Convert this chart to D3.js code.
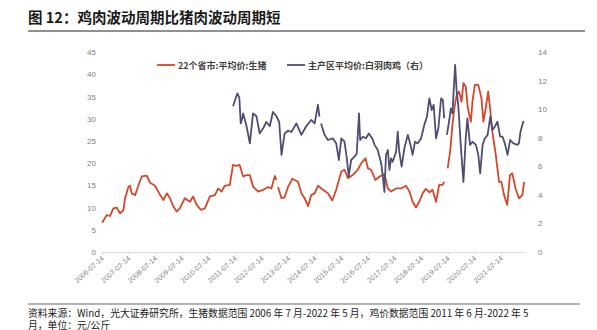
<!DOCTYPE html>
<html><head><meta charset="utf-8">
<script src="https://cdn.jsdelivr.net/npm/d3@7"></script>
<style>
html,body{margin:0;padding:0;background:#fff;}
svg{display:block;}
</style></head>
<body>
<svg id="c" width="597" height="330"></svg>
<script>
// ---------- data ----------
const titleText = "图 12：鸡肉波动周期比猪肉波动周期短";
const footLine1 = "资料来源：Wind，光大证券研究所，生猪数据范围 2006 年 7 月-2022 年 5 月，鸡价数据范围 2011 年 6 月-2022 年 5";
const footLine2 = "月，单位：元/公斤";
const seriesNames = ["22个省市:平均价:生猪", "主产区平均价:白羽肉鸡（右）"];
const xTickLabels = ["2006-07-14","2007-07-14","2008-07-14","2009-07-14","2010-07-14","2011-07-14","2012-07-14","2013-07-14","2014-07-14","2015-07-14","2016-07-14","2017-07-14","2018-07-14","2019-07-14","2020-07-14","2021-07-14"];
const leftTicks = [0,5,10,15,20,25,30,35,40,45];
const rightTicks = [0,2,4,6,8,10,12,14];

// pig price (left axis), null = gap
const pigDates = ["2006-07-16","2006-09-16","2006-11-03","2006-12-16","2007-02-03","2007-03-18","2007-05-04","2007-05-26","2007-07-13","2007-08-04","2007-08-26","2007-10-12","2007-11-25","2008-01-11","2008-03-20","2008-05-04","2008-07-12","2008-09-20","2008-11-03","2008-12-20","2009-02-03","2009-03-18","2009-05-04","2009-06-17","2009-08-25","2009-11-03","2009-12-16","2010-02-03","2010-04-01","2010-05-26","2010-08-04","2010-10-12","2010-11-25","2011-01-11","2011-02-24","2011-05-04","2011-06-17","2011-08-04","2011-09-16","2011-11-03","2011-12-20","2012-02-03","2012-03-18","2012-05-26","2012-08-04","2012-10-12","2012-11-25","2013-01-11","2013-02-03","2013-02-14","2013-02-24","2013-04-13","2013-05-26","2013-07-13","2013-09-09","2013-11-25","2014-01-11","2014-02-24","2014-04-13","2014-05-26","2014-07-13","2014-08-26","2014-11-03","2015-01-11","2015-03-12","2015-05-04","2015-07-13","2015-08-26","2015-10-12","2015-12-16","2016-02-24","2016-04-13","2016-06-10","2016-07-13","2016-08-26","2016-10-23","2016-12-20","2017-02-24","2017-04-13","2017-05-26","2017-08-04","2017-10-12","2017-12-16","2018-02-03","2018-03-18","2018-05-04","2018-06-17","2018-08-04","2018-09-16","2018-11-03","2018-12-16","2019-02-03","2019-03-18","2019-05-04","2019-05-26","2019-06-20","2019-07-13","2019-08-15","2019-09-16","2019-10-19","2019-11-14","2019-12-16","2020-01-19","2020-02-14","2020-03-17","2020-04-15","2020-05-26","2020-06-17","2020-07-19","2020-09-05","2020-10-19","2020-11-14","2020-12-16","2021-01-19","2021-02-14","2021-03-17","2021-05-04","2021-06-17","2021-07-19","2021-08-25","2021-10-08","2021-11-14","2021-12-16","2022-01-30","2022-03-17","2022-05-04","2022-05-27"];
const pigValues = [6.6,8.3,8.1,9.8,10.0,8.7,9.4,12.1,14.7,14.9,13.2,12.8,14.9,17.0,17.2,15.6,14.9,12.8,11.7,13.2,12.1,10.3,9.1,9.8,12.1,11.3,12.5,10.6,9.5,9.8,12.5,12.8,14.3,13.6,14.9,15.1,19.6,19.4,19.6,17.0,17.3,17.3,14.7,13.6,14.0,14.6,14.3,17.1,16.2,null,14.6,12.1,12.3,14.7,16.5,15.8,13.2,12.1,10.3,12.8,13.2,14.9,14.0,13.2,11.6,14.0,18.1,18.5,16.6,17.3,18.5,20.0,21.1,18.8,18.5,16.2,17.0,17.5,14.3,13.6,14.3,14.3,14.9,13.6,11.3,10.0,11.3,13.2,14.2,13.4,14.0,11.3,15.1,15.1,15.8,null,18.8,22.6,28.6,33.1,35.3,36.1,33.8,38.0,37.2,32.3,29.3,33.8,37.6,37.6,34.6,29.3,32.3,36.1,32.3,27.1,21.8,15.8,15.8,12.8,10.6,17.3,17.7,14.3,12.1,12.8,15.8];

// broiler price (right axis), null = gap
const chickenDates = ["2011-06-17","2011-08-15","2011-09-12","2011-10-01","2011-10-23","2011-11-03","2011-12-20","2012-02-03","2012-03-18","2012-05-04","2012-06-17","2012-08-04","2012-09-16","2012-11-03","2012-12-16","2013-02-03","2013-03-12","2013-04-13","2013-05-26","2013-07-13","2013-08-26","2013-11-03","2014-01-11","2014-03-18","2014-05-26","2014-07-13","2014-08-26","2014-09-16","2014-09-27","2014-10-08","2014-11-25","2015-01-11","2015-03-18","2015-05-04","2015-06-10","2015-07-13","2015-08-26","2015-09-27","2015-10-23","2015-11-25","2016-01-11","2016-02-10","2016-03-12","2016-03-28","2016-05-04","2016-06-17","2016-07-24","2016-09-09","2016-10-12","2016-11-25","2017-01-11","2017-02-03","2017-02-24","2017-03-18","2017-04-13","2017-05-04","2017-05-26","2017-06-17","2017-08-04","2017-08-26","2017-09-16","2017-10-19","2017-11-25","2018-01-11","2018-02-17","2018-03-18","2018-04-20","2018-05-26","2018-07-13","2018-08-26","2018-10-01","2018-11-03","2018-12-05","2019-01-01","2019-02-03","2019-03-07","2019-04-13","2019-05-08","2019-05-26","2019-06-14","2019-07-02","2019-08-04","2019-08-26","2019-09-16","2019-10-23","2019-11-14","2019-12-05","2020-01-08","2020-02-14","2020-03-17","2020-04-08","2020-05-15","2020-06-17","2020-08-04","2020-09-05","2020-10-01","2020-11-03","2020-12-05","2021-01-11","2021-02-17","2021-03-18","2021-04-20","2021-05-26","2021-07-02","2021-08-04","2021-09-05","2021-10-12","2021-11-17","2022-01-01","2022-02-24","2022-03-17","2022-04-08","2022-05-15","2022-05-27"];
const chickenValues = [10.2,11.1,10.8,9.0,9.4,9.7,8.8,7.6,9.7,9.5,8.3,8.66,9.1,8.8,9.8,9.5,9.1,6.8,8.3,8.5,8.4,9.0,8.2,8.8,9.24,9.0,10.3,9.47,null,9.0,8.2,7.84,7.96,7.6,6.44,7.96,7.72,6.56,5.27,6.44,6.67,6.9,9.7,7.84,8.07,7.96,8.3,7.96,7.5,7.14,6.2,5.27,4.2,6.8,7.14,5.74,6.56,6.32,7.02,8.42,7.02,5.97,7.26,8.2,7.5,6.8,7.72,7.6,7.96,8.9,9.47,10.76,9.94,10.3,7.96,8.66,10.76,10.64,9.36,null,8.2,9.24,10.06,9.7,13.1,11.2,10.3,7.5,4.9,7.96,9.36,7.5,7.72,7.5,6.8,5.5,7.5,7.96,8.2,9.47,8.54,8.77,9.12,8.07,8.07,7.6,6.8,7.84,7.6,7.5,7.6,8.42,9.12,9.12];

// ---------- drawing ----------
const parse = d3.timeParse("%Y-%m-%d");
const svg = d3.select("#c");
const cjk = "'Noto Sans CJK SC','Noto Sans',sans-serif";
const num = "'Liberation Sans',Arial,sans-serif";
const red = "#d4472b", blue = "#4f4d73", gray = "#808080";

const x = d3.scaleTime().domain([parse(xTickLabels[0]), parse(xTickLabels[15])]).range([102, 501]);
const yL = d3.scaleLinear().domain([0,45]).range([252,52]);
const yR = d3.scaleLinear().domain([0,14]).range([252,52]);

// title + rules
svg.append("text").attr("x",28).attr("y",23).attr("font-family",cjk).attr("font-weight",700)
  .attr("font-size",14.5).attr("fill","#1a1a1a").text(titleText);
svg.append("line").attr("x1",28).attr("x2",585).attr("y1",31).attr("y2",31).attr("stroke","#6b6b6b").attr("stroke-width",1.5);
svg.append("line").attr("x1",28).attr("x2",580).attr("y1",304).attr("y2",304).attr("stroke","#6b6b6b").attr("stroke-width",1.2);
svg.append("text").attr("x",28).attr("y",316.5).attr("font-family",cjk).attr("font-size",9.8).attr("fill","#222").text(footLine1);
svg.append("text").attr("x",28).attr("y",328.5).attr("font-family",cjk).attr("font-size",9.8).attr("fill","#222").text(footLine2);

// x axis
const xAxis = d3.axisBottom(x).tickValues(xTickLabels.map(parse)).tickSize(3).tickFormat(d3.timeFormat("%Y-%m-%d"));
const gx = svg.append("g").attr("transform","translate(0,252)").call(xAxis);
gx.select(".domain").attr("stroke","#d9d9d9").attr("d","M102,0.5H525");
gx.selectAll(".tick line").attr("stroke","#d9d9d9");
gx.selectAll(".tick text").attr("font-family",num).attr("font-size",7.2).attr("fill",gray)
  .attr("text-anchor","end").attr("dx","0").attr("dy","0")
  .attr("transform","translate(2,7) rotate(-42)").attr("y",0);

// left axis
const gl = svg.append("g").attr("transform","translate(96,0)").call(d3.axisLeft(yL).tickValues(leftTicks).tickSize(0).tickPadding(0));
gl.select(".domain").remove();
gl.selectAll(".tick text").attr("font-family",num).attr("font-size",8).attr("fill",gray);

// right axis
const gr = svg.append("g").attr("transform","translate(538,0)").call(d3.axisRight(yR).tickValues(rightTicks).tickSize(0).tickPadding(0));
gr.select(".domain").remove();
gr.selectAll(".tick text").attr("font-family",num).attr("font-size",8).attr("fill",gray);

// lines
const pig = pigDates.map((d,i)=>({d:parse(d), v:pigValues[i]}));
const chick = chickenDates.map((d,i)=>({d:parse(d), v:chickenValues[i]}));
const lineL = d3.line().defined(p=>p.v!=null).x(p=>x(p.d)).y(p=>yL(p.v)).curve(d3.curveLinear);
const lineR = d3.line().defined(p=>p.v!=null).x(p=>x(p.d)).y(p=>yR(p.v)).curve(d3.curveLinear);
svg.append("path").datum(pig).attr("d",lineL).attr("fill","none").attr("stroke",red).attr("stroke-width",1.8).attr("stroke-linejoin","round");
svg.append("path").datum(chick).attr("d",lineR).attr("fill","none").attr("stroke",blue).attr("stroke-width",1.8).attr("stroke-linejoin","round");

// legend
const legend = [{c:red, x1:157, tx:178, t:seriesNames[0]},{c:blue, x1:287, tx:308, t:seriesNames[1]}];
legend.forEach(l=>{
  svg.append("line").attr("x1",l.x1).attr("x2",l.x1+18).attr("y1",65).attr("y2",65).attr("stroke",l.c).attr("stroke-width",1.8);
  svg.append("text").attr("x",l.tx).attr("y",68.5).attr("font-family",cjk).attr("font-size",9).attr("font-weight",600)
    .attr("fill","#404040").text(l.t);
});
</script>
</body></html>
